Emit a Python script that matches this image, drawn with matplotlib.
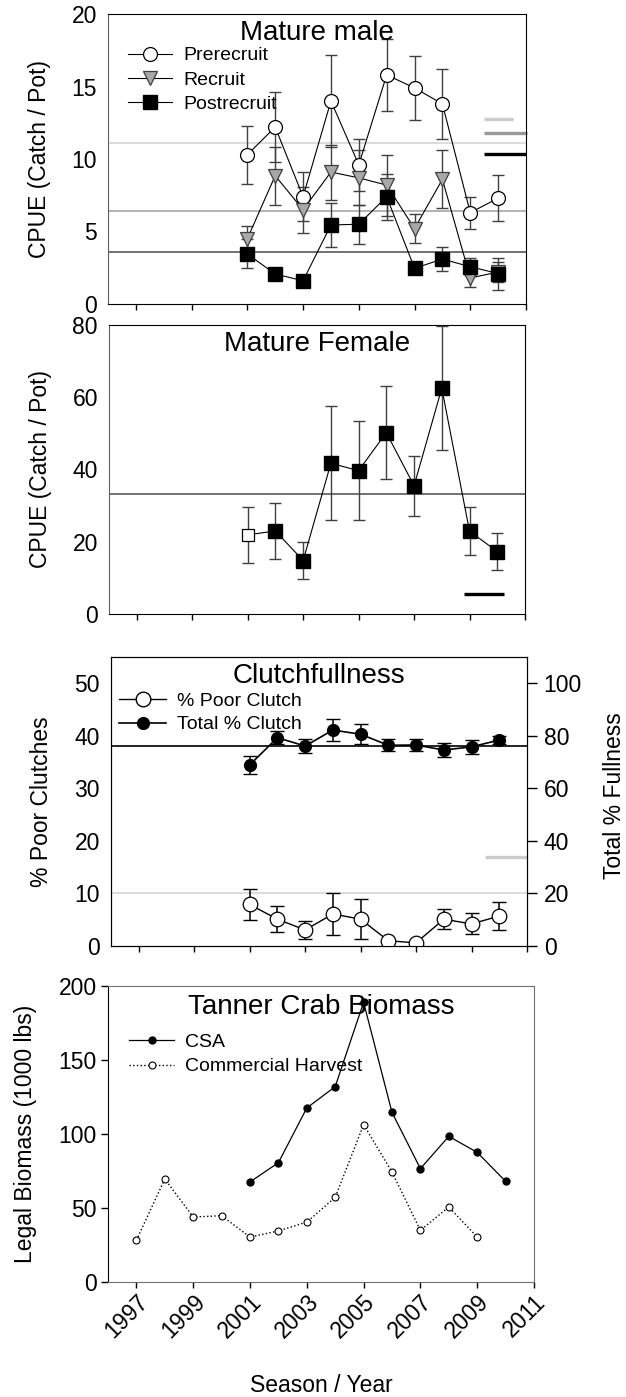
import matplotlib.pyplot as plt
from matplotlib.lines import Line2D

plt.rcParams['font.family'] = ['Liberation Sans', 'DejaVu Sans']

# =============================================================================
#  DATA
# =============================================================================
years = [2001, 2002, 2003, 2004, 2005, 2006, 2007, 2008, 2009, 2010]

# Mature male CPUE (catch / pot) with standard errors
prerecruit = [10.3, 12.2, 7.4, 14.0, 9.6, 15.8, 14.9, 13.8, 6.3, 7.3]
prerecruit_se = [2.0, 2.4, 1.7, 3.2, 1.8, 2.5, 2.2, 2.4, 1.1, 1.6]
recruit = [4.5, 8.85, 6.5, 9.1, 8.7, 8.2, 5.2, 8.6, 1.8, 2.2]
recruit_se = [0.9, 2.0, 1.6, 1.9, 1.9, 2.1, 1.0, 2.0, 0.6, 0.7]
postrecruit = [3.45, 2.07, 1.6, 5.45, 5.5, 7.4, 2.46, 3.1, 2.57, 2.1]
postrecruit_se = [1.0, 0.35, 0.3, 1.5, 1.35, 1.6, 0.4, 0.8, 0.6, 1.1]
male_means = [11.13, 6.41, 3.56]          # long-term averages (pre, rec, post)
male_targets = [12.76, 11.77, 10.34]      # short bars at the right

# Mature female CPUE
female = [21.9, 23.0, 14.8, 41.7, 39.7, 50.2, 35.5, 62.5, 22.9, 17.3]
female_se = [7.8, 7.8, 5.2, 15.8, 13.8, 12.8, 8.3, 17.2, 6.6, 5.0]
female_mean = 33.1
female_target = 5.4

# Clutch fullness
poor_clutch = [7.9, 5.1, 3.05, 6.1, 5.1, 1.0, 0.6, 5.1, 4.2, 5.7]
poor_clutch_se = [3.0, 2.5, 1.8, 4.0, 3.8, 0.0, 0.0, 1.9, 2.0, 2.6]
total_clutch = [68.9, 79.3, 76.1, 82.2, 80.6, 76.4, 76.5, 74.6, 75.8, 78.4]
total_clutch_se = [3.4, 2.5, 2.6, 4.2, 3.9, 2.2, 2.4, 2.5, 2.6, 1.6]
poor_mean = 10.0
total_mean = 76.1
poor_target = 17.0

# Legal biomass (1000 lbs)
csa = [67.6, 80.6, 117.6, 132.0, 189.0, 114.6, 76.6, 98.4, 87.6, 68.0]
harvest_years = [1997, 1998, 1999, 2000, 2001, 2002, 2003, 2004, 2005, 2006, 2007, 2008, 2009]
harvest = [28.2, 69.6, 43.9, 44.8, 30.4, 34.5, 40.5, 57.2, 106.3, 74.3, 34.9, 50.7, 30.4]

year_ticks = [1997, 1999, 2001, 2003, 2005, 2007, 2009, 2011]

# =============================================================================
#  PLOTTING
# =============================================================================
W, H = 626, 1397
fig = plt.figure(figsize=(W / 100, H / 100), dpi=100)

def box(l, t, r, b):
    return [l / W, 1 - b / H, (r - l) / W, (b - t) / H]

ax1 = fig.add_axes(box(108, 14, 526, 304))
ax2 = fig.add_axes(box(109, 325, 525, 614))
ax3 = fig.add_axes(box(111, 657, 527, 946))
ax4 = fig.add_axes(box(108, 986, 534, 1282))

TICK = 16.5
LEG = 14
TITLE = 20
LAB = 16.5
ecolor = '#404040'

for ax in (ax1, ax2, ax3, ax4):
    ax.set_xlim(1996, 2011)
    ax.set_xticks(year_ticks)
    ax.tick_params(axis='x', direction='out', length=4, width=1, labelsize=TICK)
    ax.tick_params(axis='y', length=0, pad=8, labelsize=TICK)
for ax in (ax1, ax2, ax3):
    ax.set_xticklabels([])

def hline(ax, y, color, lw=1.2):
    ax.axhline(y, color=color, lw=lw, zorder=1)

def short_bar(ax, y, x0, x1, color):
    ax.plot([x0, x1], [y, y], color=color, lw=2.4, solid_capstyle='butt',
            clip_on=False, zorder=2)

# --- Mature male ---
for y, c in zip(male_means, ['#d6d6d6', '#a6a6a6', '#5a5a5a']):
    hline(ax1, y, c)
for y, c, x1 in zip(male_targets, ['#cccccc', '#999999', 'black'], [2010.55, 2011.05, 2011.0]):
    short_bar(ax1, y, 2009.5, x1, c)

ax1.errorbar(years, prerecruit, yerr=prerecruit_se, fmt='none', ecolor=ecolor,
             elinewidth=1, capsize=4.5, zorder=3)
ax1.errorbar(years, recruit, yerr=recruit_se, fmt='none', ecolor=ecolor,
             elinewidth=1, capsize=4.5, zorder=3)
ax1.errorbar(years, postrecruit, yerr=postrecruit_se, fmt='none', ecolor=ecolor,
             elinewidth=1, capsize=4.5, zorder=3)
ax1.plot(years, prerecruit, '-o', color='black', lw=0.8, ms=10, mfc='white',
         mec='black', mew=0.9, zorder=4, label='Prerecruit')
ax1.plot(years, recruit, '-v', color='black', lw=0.8, ms=10, mfc='#a8a8a8',
         mec='#404040', mew=0.9, zorder=5, label='Recruit')
ax1.plot(years, postrecruit, '-s', color='black', lw=0.8, ms=9.5, mfc='black',
         mec='black', zorder=6, label='Postrecruit')
ax1.set_ylim(0, 20)
ax1.set_yticks([0, 5, 10, 15, 20])
ax1.text(0.5, 0.934, 'Mature male', transform=ax1.transAxes, ha='center',
         va='center', fontsize=TITLE)
ax1.legend(loc='upper left', bbox_to_anchor=(0.047, 0.887), frameon=False,
           fontsize=LEG, handlelength=2.3, handletextpad=0.55, labelspacing=0.35,
           borderpad=0, borderaxespad=0)
ax1.set_ylabel('CPUE (Catch / Pot)', fontsize=LAB, va='center')
ax1.yaxis.set_label_coords(-0.163, 0.5)
ax1.spines['left'].set_color('#606060')

# --- Mature female ---
hline(ax2, female_mean, '#5a5a5a')
short_bar(ax2, female_target, 2008.8, 2010.25, 'black')
ax2.errorbar(years, female, yerr=female_se, fmt='none', ecolor=ecolor,
             elinewidth=1, capsize=4.5, zorder=3)
ax2.plot(years, female, '-', color='black', lw=0.8, zorder=4)
ax2.plot(years[:1], female[:1], 's', ms=8, mfc='white', mec='black', mew=0.9, zorder=5)
ax2.plot(years[1:], female[1:], 's', ms=10, mfc='black', mec='black', zorder=5)
ax2.set_ylim(0, 80)
ax2.set_yticks([0, 20, 40, 60, 80])
ax2.text(0.5, 0.934, 'Mature Female', transform=ax2.transAxes, ha='center',
         va='center', fontsize=TITLE)
ax2.set_ylabel('CPUE (Catch / Pot)', fontsize=LAB, va='center')
ax2.yaxis.set_label_coords(-0.165, 0.5)
ax2.spines['left'].set_color('#606060')

# --- Clutch fullness ---
ax3r = ax3.twinx()
ax3.set_ylim(0, 55)
ax3.set_yticks([0, 10, 20, 30, 40, 50])
ax3r.set_ylim(0, 110)
ax3r.set_yticks([0, 20, 40, 60, 80, 100])
ax3r.tick_params(axis='y', direction='out', length=7, width=1, pad=5, labelsize=TICK)
hline(ax3, poor_mean, '#d6d6d6')
short_bar(ax3, poor_target, 2009.5, 2011.0, '#cccccc')
ax3r.axhline(total_mean, color='black', lw=1.2, zorder=1)

ax3.errorbar(years, poor_clutch, yerr=poor_clutch_se, fmt='none', ecolor='black',
             elinewidth=1.1, capsize=5, zorder=3)
ax3.plot(years, poor_clutch, '-o', color='black', lw=1, ms=10.5, mfc='white',
         mec='black', mew=0.9, zorder=4)
ax3r.errorbar(years, total_clutch, yerr=total_clutch_se, fmt='none', ecolor='black',
              elinewidth=1.1, capsize=5, zorder=3)
ax3r.plot(years, total_clutch, '-o', color='black', lw=1.2, ms=8.5, mfc='black',
          mec='black', zorder=4)
ax3.text(0.5, 0.934, 'Clutchfullness', transform=ax3.transAxes, ha='center',
         va='center', fontsize=TITLE)
handles3 = [Line2D([], [], color='black', lw=1, marker='o', ms=10.5, mfc='white', mec='black'),
            Line2D([], [], color='black', lw=1.2, marker='o', ms=8.5, mfc='black', mec='black')]
ax3.legend(handles3, ['% Poor Clutch', 'Total % Clutch'], loc='upper left',
           bbox_to_anchor=(0.02, 0.878), frameon=False, fontsize=LEG,
           handlelength=2.4, handletextpad=0.55, labelspacing=0.3,
           borderpad=0, borderaxespad=0)
ax3.set_ylabel('% Poor Clutches', fontsize=LAB, va='center')
ax3.yaxis.set_label_coords(-0.166, 0.5)
ax3r.set_ylabel('Total % Fullness', fontsize=LAB, va='center', rotation=90)
ax3r.yaxis.set_label_coords(1.21, 0.52)

# --- Tanner crab biomass ---
ax4.plot(years, csa, '-o', color='black', lw=0.9, ms=5, mfc='black', mec='black',
         label='CSA', zorder=4)
ax4.plot(harvest_years, harvest, ':o', color='black', lw=1, ms=5, mfc='white',
         mec='black', mew=0.8, label='Commercial Harvest', zorder=4)
ax4.set_ylim(0, 200)
ax4.set_yticks([0, 50, 100, 150, 200])
ax4.tick_params(axis='y', direction='out', length=5, width=1, pad=3)
ax4.text(0.5, 0.93, 'Tanner Crab Biomass', transform=ax4.transAxes, ha='center',
         va='center', fontsize=TITLE)
ax4.legend(loc='upper left', bbox_to_anchor=(0.05, 0.84), frameon=False,
           fontsize=LEG, handlelength=2.3, handletextpad=0.55, labelspacing=0.35,
           borderpad=0, borderaxespad=0)
ax4.set_xticklabels([str(y) for y in year_ticks], rotation=45, ha='right',
                    va='top', rotation_mode='anchor')
ax4.tick_params(axis='x', pad=2)
ax4.set_ylabel('Legal Biomass (1000 lbs)', fontsize=LAB, va='center')
ax4.yaxis.set_label_coords(-0.193, 0.5)
ax4.set_xlabel('Season / Year', fontsize=LAB, va='center')
ax4.xaxis.set_label_coords(0.502, -0.348)
for s in ('top', 'right', 'bottom'):
    ax4.spines[s].set_color('#707070')

fig.savefig('out.png', dpi=100)
